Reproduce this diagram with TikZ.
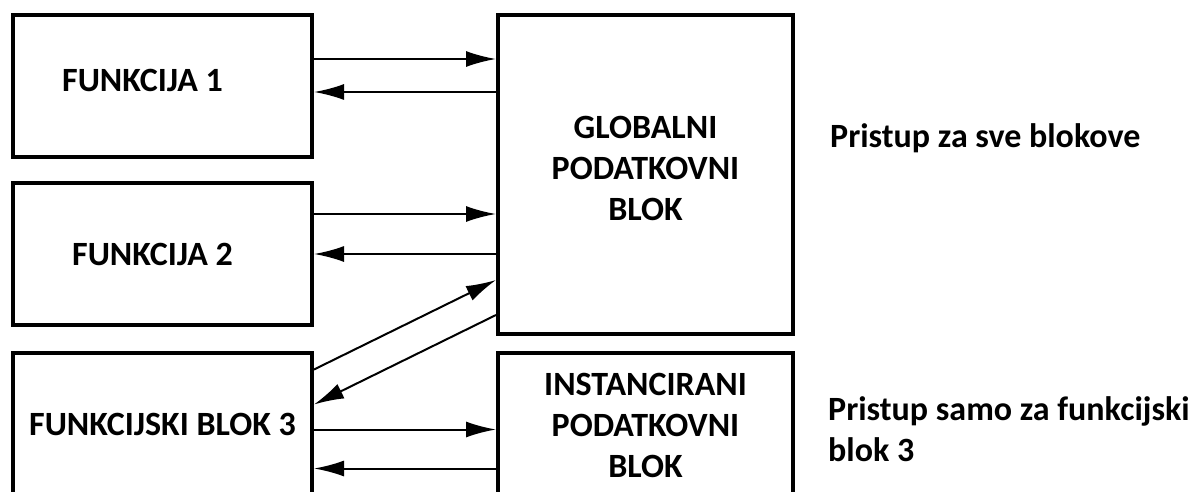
\documentclass[tikz,border=0pt]{standalone}
\usepackage{fontspec}
\setmainfont{Carlito}
\usetikzlibrary{arrows.meta, positioning}

\begin{document}
\begin{tikzpicture}[
        x=1pt, y=-1pt,
        box/.style={draw, rectangle, line width=4pt, minimum width=299pt, minimum height=142pt, align=center, inner sep=0pt, font=\fontsize{34}{41}\selectfont\bfseries},
        note/.style={anchor=base west, inner sep=0pt, align=left, font=\fontsize{34}{41}\selectfont\bfseries},
        link/.style={line width=2pt, -{Latex[length=30pt, width=16pt]}}
    ]
        \useasboundingbox (0,0) rectangle (1193,492);
        \clip (0,0) rectangle (1193,492);
        % Nodes
        \node[box, text depth=12pt] (f1) at (162.5,86) {FUNKCIJA 1\hspace*{40pt}};
        \node[box, below=22pt of f1] (f2) {FUNKCIJA 2\hspace*{20pt}};
        \node[box, below=24pt of f2] (f3) {FUNKCIJSKI BLOK 3};
        \node[box, text depth=12pt, minimum width=295pt, minimum height=319pt, right=182pt of f1.north east, anchor=north west] (glob) {GLOBALNI\\PODATKOVNI\\BLOK};
        \node[box, minimum width=295pt, minimum height=145pt, below=15pt of glob] (inst) {INSTANCIRANI\\PODATKOVNI\\BLOK};
        \node[note] (allnote) at (830,147) {Pristup za sve blokove};
        \node[note] (instnote) at (828,461) {Pristup samo za funkcijski\\blok 3};

        % Arrows
        \draw[link] ([yshift=27pt]f1.east) -- ([yshift=27pt]f1.east -| glob.west);
        \draw[link] ([yshift=-6pt]f1.east -| glob.west) -- ([yshift=-6pt]f1.east);
        \draw[link] ([yshift=40pt]f2.east) -- ([yshift=40pt]f2.east -| glob.west);
        \draw[link] (f2.east -| glob.west) -- (f2.east);
        \draw[link] ([yshift=54.5pt]f3.east) -- ([yshift=-105.5pt]glob.west);
        \draw[link] ([yshift=-140.5pt]glob.west) -- ([yshift=19.5pt]f3.east);
        \draw[link] ([yshift=-5.5pt]f3.east) -- ([yshift=-5.5pt]f3.east -| inst.west);
        \draw[link] ([yshift=-44.5pt]f3.east -| inst.west) -- ([yshift=-44.5pt]f3.east);
    \end{tikzpicture}
\end{document}
